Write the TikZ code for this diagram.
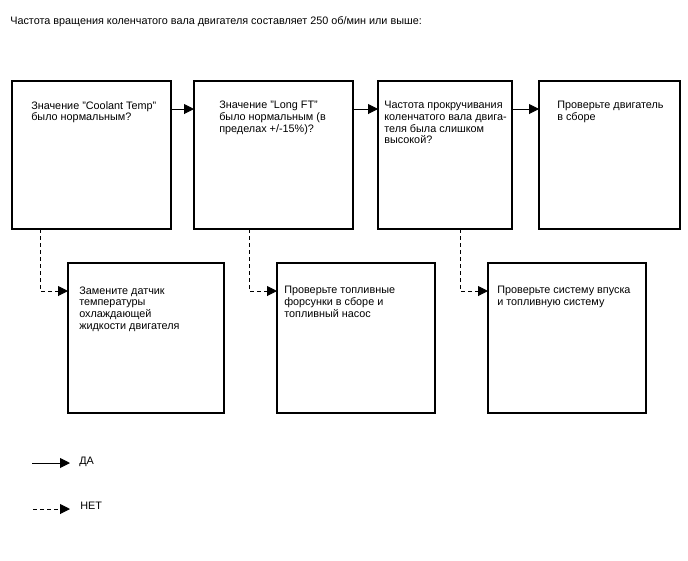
\documentclass[tikz,border=0pt]{standalone}
\usepackage{fontspec}
\setmainfont{Liberation Sans}
\usetikzlibrary{arrows.meta, positioning}
\tikzset{
  blk/.style={rectangle, draw=black, line width=0.9pt,
    inner sep=0pt, outer sep=0pt, anchor=north west},
  txt/.style={anchor=north west, inner sep=0pt, align=left,
    font=\fontsize{7.7}{8.3}\selectfont},
  arr/.style={-{Triangle[length=7pt,width=7pt]}, line width=0.65pt},
  arrN/.style={arr, dash pattern=on 2.5pt off 2.5pt},
}
\begin{document}
\begin{tikzpicture}[x=0.025cm, y=-0.025cm]
  \useasboundingbox (0,0) rectangle (688,560);

  % Heading
  \node[txt, anchor=west] (title) at (10,21.5)
       {Частота вращения коленчатого вала двигателя составляет 250 об/мин или выше:};

  % Question boxes (top row)
  \node[blk, minimum width=3.975cm, minimum height=3.7cm] (coolant) at (12,81) {};
  \node[blk, minimum width=3.975cm, minimum height=3.7cm] (longft)  at (194,81) {};
  \node[blk, minimum width=3.35cm,  minimum height=3.7cm] (crank)   at (378,81) {};
  \node[blk, minimum width=3.525cm, minimum height=3.7cm] (engine)  at (539,81) {};

  % Action boxes (bottom row)
  \node[blk, minimum width=3.9cm,  minimum height=3.75cm] (sensor)  at (68,263) {};
  \node[blk, minimum width=3.95cm, minimum height=3.75cm] (inject)  at (277,263) {};
  \node[blk, minimum width=3.95cm, minimum height=3.75cm] (intake)  at (488,263) {};

  % Box texts
  \node[txt] (coolantT) at ([xshift=0.475cm, yshift=-0.5cm]coolant.north west)
       {Значение "Coolant Temp"\\было нормальным?};
  \node[txt] (longftT) at ([xshift=0.625cm, yshift=-0.5cm]longft.north west)
       {Значение "Long FT"\\было нормальным (в\\пределах +/-15\%)?};
  \node[txt] (crankT) at ([xshift=0.15cm, yshift=-0.5cm]crank.north west)
       {Частота прокручивания\\коленчатого вала двига-\\теля была слишком\\высокой?};
  \node[txt] (engineT) at ([xshift=0.45cm, yshift=-0.5cm]engine.north west)
       {Проверьте двигатель\\в сборе};
  \node[txt] (sensorT) at ([xshift=0.275cm, yshift=-0.58cm]sensor.north west)
       {Замените датчик\\температуры\\охлаждающей\\жидкости двигателя};
  \node[txt] (injectT) at ([xshift=0.175cm, yshift=-0.58cm]inject.north west)
       {Проверьте топливные\\форсунки в сборе и\\топливный насос};
  \node[txt] (intakeT) at ([xshift=0.225cm, yshift=-0.58cm]intake.north west)
       {Проверьте систему впуска\\и топливную систему};

  % YES links
  \draw[arr] ([yshift=-0.7cm]coolant.north east) -- ([yshift=-0.7cm]longft.north west);
  \draw[arr] ([yshift=-0.7cm]longft.north east) -- ([yshift=-0.7cm]crank.north west);
  \draw[arr] ([yshift=-0.7cm]crank.north east) -- ([yshift=-0.7cm]engine.north west);

  % NO links
  \draw[arrN] ([xshift=0.7cm]coolant.south west) |- ([yshift=-0.7cm]sensor.north west);
  \draw[arrN] ([xshift=1.375cm]longft.south west) |- ([yshift=-0.7cm]inject.north west);
  \draw[arrN] ([xshift=2.05cm]crank.south west) |- ([yshift=-0.7cm]intake.north west);

  % Legend
  \coordinate (yesA) at (32,463);
  \coordinate (yesB) at (70,463);
  \coordinate (noA) at (33,509);
  \coordinate (noB) at (70,509);
  \draw[arr] (yesA) -- (yesB);
  \draw[arrN] (noA) -- (noB);
  \node[txt, anchor=west] (yes) at (79,462) {ДА};
  \node[txt, anchor=west] (no) at (80,506) {НЕТ};
\end{tikzpicture}
\end{document}
